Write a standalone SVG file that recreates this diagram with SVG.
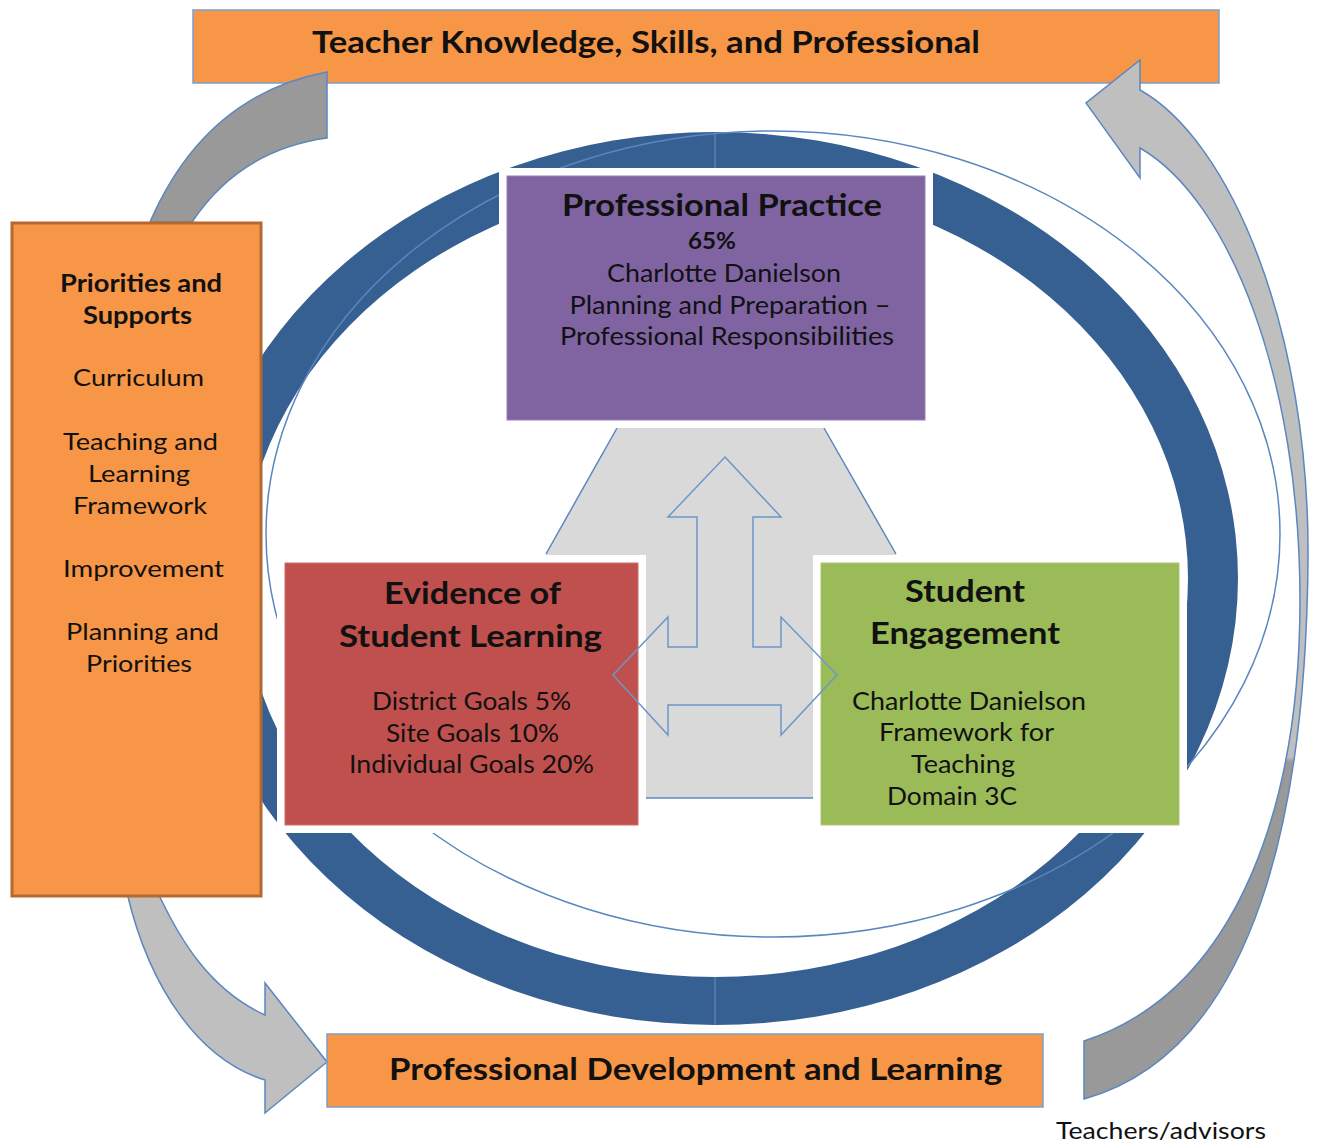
<svg xmlns="http://www.w3.org/2000/svg" width="1317" height="1146" viewBox="0 0 1317 1146">
<defs>
<style>
.t{font-family:Lato,"Open Sans","Liberation Sans",sans-serif;fill:#111;text-anchor:middle}
.b{font-weight:bold}
.arrow{stroke:#5b87c0;stroke-width:1.5;stroke-linejoin:miter}
.blue{stroke:#5b87c0;stroke-width:1.5;fill:none}
.orange{fill:#f79646}
</style>
<linearGradient id="rg" gradientUnits="userSpaceOnUse" x1="0" y1="60" x2="0" y2="1100">
<stop offset="0" stop-color="#bfbfbf"/><stop offset="0.67" stop-color="#bfbfbf"/><stop offset="0.675" stop-color="#999999"/><stop offset="1" stop-color="#999999"/>
</linearGradient>
</defs>
<rect width="1317" height="1146" fill="#fff"/>

<g id="ring">
<path d="M192,578.5 A523,446.5 0 1 0 1238,578.5 A523,446.5 0 1 0 192,578.5 Z M242,578.5 A473,398.5 0 1 1 1188,578.5 A473,398.5 0 1 1 242,578.5 Z" fill="#366092" fill-rule="evenodd"/>
<line x1="715" y1="132" x2="715" y2="180" stroke="#6a8fbf" stroke-width="1"/>
<line x1="715" y1="977" x2="715" y2="1025" stroke="#6a8fbf" stroke-width="1"/>
<ellipse cx="773" cy="534" rx="507" ry="403" class="blue" stroke-width="1.5"/>
</g>

<g id="center-shape">
<polygon points="617,428 824,428 896,554 896,798 546,798 546,554" fill="#d9d9d9"/>
<line x1="617" y1="428" x2="546" y2="554" class="blue"/>
<line x1="824" y1="428" x2="896" y2="554" class="blue"/>
<line x1="640" y1="798" x2="820" y2="798" class="blue"/>
</g>

<g id="professional-practice">
<rect x="499" y="168" width="434" height="260" fill="#fff"/>
<rect x="507" y="176" width="418" height="244" fill="#8064a2" stroke="#9680b5" stroke-width="1"/>
<text class="t b" x="722" y="216" font-size="31" textLength="320" lengthAdjust="spacingAndGlyphs">Professional Practice</text>
<text class="t b" x="712" y="249" font-size="22" textLength="48" lengthAdjust="spacingAndGlyphs">65%</text>
<text class="t" x="724" y="282" font-size="25" textLength="234" lengthAdjust="spacingAndGlyphs">Charlotte Danielson</text>
<text class="t" x="730" y="314" font-size="25" textLength="321" lengthAdjust="spacingAndGlyphs">Planning and Preparation –</text>
<text class="t" x="727" y="345" font-size="25" textLength="334" lengthAdjust="spacingAndGlyphs">Professional Responsibilities</text>
</g>

<g id="evidence">
<rect x="277" y="555" width="369" height="278" fill="#fff"/>
<rect x="285" y="563" width="353" height="262" fill="#c0504d" stroke="#cc6f6c" stroke-width="1"/>
<text class="t b" x="472.5" y="604" font-size="31" textLength="177" lengthAdjust="spacingAndGlyphs">Evidence of</text>
<text class="t b" x="470.5" y="647" font-size="31" textLength="263" lengthAdjust="spacingAndGlyphs">Student Learning</text>
<text class="t" x="471.5" y="710" font-size="25" textLength="199" lengthAdjust="spacingAndGlyphs">District Goals 5%</text>
<text class="t" x="472.5" y="742" font-size="25" textLength="173" lengthAdjust="spacingAndGlyphs">Site Goals 10%</text>
<text class="t" x="471.5" y="773" font-size="25" textLength="245" lengthAdjust="spacingAndGlyphs">Individual Goals 20%</text>
</g>

<g id="engagement">
<rect x="813" y="555" width="374" height="278" fill="#fff"/>
<rect x="821" y="563" width="358" height="262" fill="#9bbb59" stroke="#abc775" stroke-width="1"/>
<text class="t b" x="965" y="602" font-size="31" textLength="120" lengthAdjust="spacingAndGlyphs">Student</text>
<text class="t b" x="965" y="644" font-size="31" textLength="190" lengthAdjust="spacingAndGlyphs">Engagement</text>
<text class="t" x="969" y="710" font-size="25" textLength="234" lengthAdjust="spacingAndGlyphs">Charlotte Danielson</text>
<text class="t" x="966.5" y="741" font-size="25" textLength="175" lengthAdjust="spacingAndGlyphs">Framework for</text>
<text class="t" x="963" y="773" font-size="25" textLength="104" lengthAdjust="spacingAndGlyphs">Teaching</text>
<text class="t" x="952" y="805" font-size="25" textLength="130" lengthAdjust="spacingAndGlyphs">Domain 3C</text>
</g>

<g id="teacher-knowledge">
<rect x="193" y="10" width="1026" height="73" class="orange" stroke="#7a9fcf" stroke-width="1.5"/>
<text class="t b" x="646" y="53" font-size="31" textLength="668" lengthAdjust="spacingAndGlyphs">Teacher Knowledge, Skills, and Professional</text>
</g>

<g id="connectors">
<path d="M725,457 L781,517 L753,517 L753,647 L781,647 L781,617 L837,675 L781,735 L781,705 L668,705 L668,735 L613,675 L668,617 L668,647 L697,647 L697,517 L668,517 Z" fill="none" stroke="#6e96c9" stroke-width="1.5"/>
<path class="arrow" fill="#999999" d="M150,222 Q205,95 327,72 L327,138 Q240,150 192,222 Z"/>
<path class="arrow" fill="#bfbfbf" d="M127,893 C150,990 200,1060 265,1080 L265,1113 L327,1062 L265,983 L265,1015 C210,990 180,940 158,893 Z"/>
<path class="arrow" fill="url(#rg)" d="M1140,148 L1140,178 L1086,103 L1140,60 L1140,90 C1230,140 1310,330 1308,560 C1306,800 1260,1050 1084,1099 L1084,1041 C1240,990 1300,800 1300,600 C1300,380 1230,200 1140,148 Z"/>
</g>

<g id="priorities">
<rect x="12" y="223" width="249" height="673" class="orange" stroke="#b5692f" stroke-width="3"/>
<text class="t b" x="141" y="292" font-size="24" textLength="162" lengthAdjust="spacingAndGlyphs">Priorities and</text>
<text class="t b" x="137.5" y="324" font-size="24" textLength="109" lengthAdjust="spacingAndGlyphs">Supports</text>
<text class="t" x="138.5" y="386" font-size="24" textLength="131" lengthAdjust="spacingAndGlyphs">Curriculum</text>
<text class="t" x="140.5" y="450" font-size="24" textLength="155" lengthAdjust="spacingAndGlyphs">Teaching and</text>
<text class="t" x="139" y="482" font-size="24" textLength="102" lengthAdjust="spacingAndGlyphs">Learning</text>
<text class="t" x="140" y="514" font-size="24" textLength="134" lengthAdjust="spacingAndGlyphs">Framework</text>
<text class="t" x="143.5" y="577" font-size="24" textLength="161" lengthAdjust="spacingAndGlyphs">Improvement</text>
<text class="t" x="142.5" y="640" font-size="24" textLength="153" lengthAdjust="spacingAndGlyphs">Planning and</text>
<text class="t" x="139" y="672" font-size="24" textLength="106" lengthAdjust="spacingAndGlyphs">Priorities</text>
</g>

<g id="professional-development">
<rect x="327" y="1034" width="716" height="73" class="orange" stroke="#7a9fcf" stroke-width="1.5"/>
<text class="t b" x="695.5" y="1080" font-size="31" textLength="613" lengthAdjust="spacingAndGlyphs">Professional Development and Learning</text>
</g>

<g id="teachers-label">
<text class="t" x="1161" y="1139" font-size="24" textLength="210" lengthAdjust="spacingAndGlyphs">Teachers/advisors</text>
</g>
</svg>
